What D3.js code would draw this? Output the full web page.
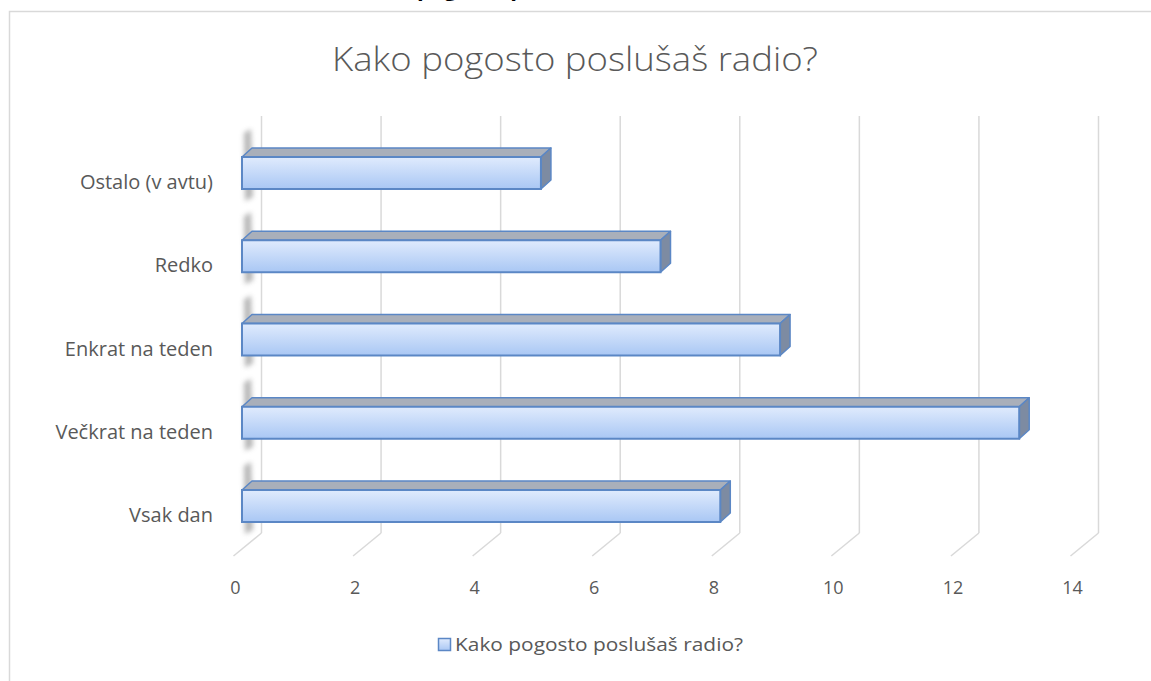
<!DOCTYPE html>
<html>
<head>
<meta charset="utf-8">
<script src="https://cdn.jsdelivr.net/npm/d3@7"></script>
<style>
  body { margin: 0; background: #fff; }
  svg { display: block; }
</style>
</head>
<body>
<div id="chart"></div>
<script>
// data, top to bottom as drawn
const categories = ['Ostalo (v avtu)', 'Redko', 'Enkrat na teden', 'Večkrat na teden', 'Vsak dan'];
const values = [5, 7, 9, 13, 8];
const ticks = [0, 2, 4, 6, 8, 10, 12, 14];
const seriesName = 'Kako pogosto poslušaš radio?';
const titleText = 'Kako pogosto poslušaš radio?';

const width = 1151;
const height = 681;
const font = '"Open Sans", Lato, sans-serif';
const grey = '#595959';

const svg = d3.select('#chart').append('svg')
  .attr('width', width)
  .attr('height', height);

const defs = svg.append('defs');
const grad = defs.append('linearGradient')
  .attr('id', 'barFront').attr('x1', 0).attr('y1', 0).attr('x2', 0).attr('y2', 1);
grad.append('stop').attr('offset', '0%').attr('stop-color', '#e0ebfd');
grad.append('stop').attr('offset', '100%').attr('stop-color', '#a9c7f4');
defs.append('filter').attr('id', 'blur')
  .attr('x', '-100%').attr('y', '-50%').attr('width', '300%').attr('height', '200%')
  .append('feGaussianBlur').attr('stdDeviation', 2.5);

// heading of the page above the chart, only its descenders show
svg.append('text')
  .attr('x', 356).attr('y', -4)
  .style('font', `bold 22px ${font}`)
  .style('fill', '#000')
  .text('Kako pogosto poslušaš radio?');

// chart border
svg.append('rect')
  .attr('x', 9.5).attr('y', 11.5)
  .attr('width', 1170).attr('height', 700)
  .attr('fill', 'none')
  .attr('stroke', '#d9d9d9')
  .attr('stroke-width', 1.5);

svg.append('text')
  .attr('x', 332).attr('y', 71)
  .attr('textLength', 486)
  .attr('lengthAdjust', 'spacingAndGlyphs')
  .style('font', `300 33px ${font}`)
  .style('fill', grey)
  .text(titleText);

// scales
const xBack = d3.scaleLinear().domain([0, 14]).range([261.5, 1098.5]);
const xBar = d3.scaleLinear().domain([0, 14]).range([242, 242 + 837]);
const y = d3.scalePoint().domain(categories).range([173, 506]);

const floorY = 533;
const floorDx = -28, floorDy = 23;
const depthX = 10, depthY = -9;
const barH = 32;

// gridlines on the back wall + floor
const grid = svg.append('g');
grid.selectAll('.gv').data(ticks).enter().append('line')
  .attr('x1', d => xBack(d)).attr('x2', d => xBack(d))
  .attr('y1', 116).attr('y2', floorY)
  .attr('stroke', '#d9d9d9').attr('stroke-width', 1.5);
grid.selectAll('.gf').data(ticks).enter().append('line')
  .attr('x1', d => xBack(d)).attr('y1', floorY)
  .attr('x2', d => xBack(d) + floorDx).attr('y2', floorY + floorDy)
  .attr('stroke', '#d9d9d9').attr('stroke-width', 1.5);

// tick labels
svg.selectAll('.tl').data(ticks).enter().append('text')
  .attr('x', d => xBack(d) + floorDx + 2)
  .attr('y', 594)
  .attr('text-anchor', 'middle')
  .style('font', `18px ${font}`)
  .style('fill', grey)
  .text(d => d);

// shadows of the bars on the side wall
svg.selectAll('.sh').data(categories).enter().append('path')
  .attr('d', d => {
    const t = y(d) - barH / 2;
    return `M244,${t - 24} L251,${t - 28} L253,${t + barH + 8} L245,${t + barH + 12} Z`;
  })
  .attr('fill', '#6f6f6f')
  .attr('opacity', 0.5)
  .attr('filter', 'url(#blur)');

// bars
const bars = svg.selectAll('.bar').data(categories).enter().append('g');
const x0 = xBar(0);

bars.append('path') // top face
  .attr('d', (d, i) => {
    const t = y(d) - barH / 2, r = xBar(values[i]);
    return `M${x0},${t} L${x0 + depthX},${t + depthY} L${r + depthX},${t + depthY} L${r},${t} Z`;
  })
  .attr('fill', '#a9afba')
  .attr('stroke', '#5b87c5').attr('stroke-width', 1.5).attr('stroke-linejoin', 'round');

bars.append('path') // side face
  .attr('d', (d, i) => {
    const t = y(d) - barH / 2, r = xBar(values[i]);
    return `M${r},${t} L${r + depthX},${t + depthY} L${r + depthX},${t + barH + depthY} L${r},${t + barH} Z`;
  })
  .attr('fill', '#7d8ba2')
  .attr('stroke', '#5b87c5').attr('stroke-width', 1.5).attr('stroke-linejoin', 'round');

bars.append('rect') // front face
  .attr('x', x0)
  .attr('y', d => y(d) - barH / 2)
  .attr('width', (d, i) => xBar(values[i]) - x0)
  .attr('height', barH)
  .attr('fill', 'url(#barFront)')
  .attr('stroke', '#5b87c5').attr('stroke-width', 2);

// category labels
svg.selectAll('.cl').data(categories).enter().append('text')
  .attr('x', 213)
  .attr('y', d => y(d) + 16)
  .attr('text-anchor', 'end')
  .style('font', `20px ${font}`)
  .style('fill', grey)
  .text(d => d);

// legend
const legend = svg.append('g').attr('transform', 'translate(438,638)');
legend.append('rect')
  .attr('x', 0.5).attr('y', 0.5).attr('width', 12).attr('height', 12)
  .attr('fill', 'url(#barFront)')
  .attr('stroke', '#5b87c5').attr('stroke-width', 1.5);
legend.append('text')
  .attr('x', 17).attr('y', 13)
  .attr('textLength', 288)
  .attr('lengthAdjust', 'spacingAndGlyphs')
  .style('font', `18px ${font}`)
  .style('fill', grey)
  .text(seriesName);
</script>
</body>
</html>
